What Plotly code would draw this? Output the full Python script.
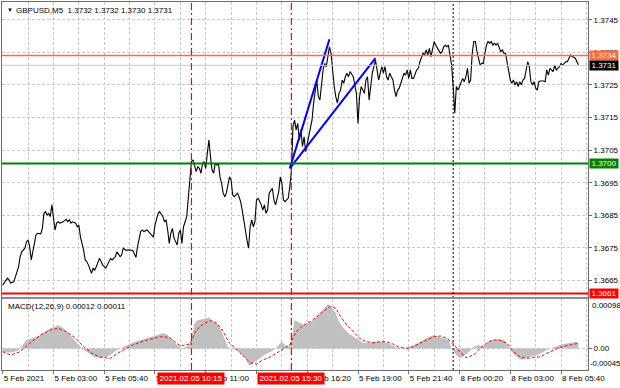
import plotly.graph_objects as go

FONT = "Liberation Sans, Arial, sans-serif"
FS = 8

symbol_title = "GBPUSD,M5  1.3732 1.3732 1.3730 1.3731"
macd_title = "MACD(12,26,9) 0.00012 0.00011"

# ---- price (close) polyline: bar index -> price ----
price_idx = [0,3,4,5,7,8,9,10,11,12,14,15,16,17,18,19,20,21,22,24,25,26,27,28,29,30,31,32,33,34,35,36,38,40,41,42,43,44,46,47,48,49,50,51,52,53,54,55,56,57,58,59,60,61,62,63,65,67,68,69,71,72,73,74,75,76,78,79,82,84,85,87,88,89,91,93,95,96,97,98,99,100,101,102,103,104,105,106,107,108,110,111,112,113,114,116,117,118,
             119,120,121,122,123,124,125,126,127,128,129,130,131,132,133,134,135,136,137,138,139,140,141,142,143,144,145,146,148,149,150,151,152,153,154,155,156,157,158,159,160,161,162,163,164,165,166,167,168,170,171,172,173,174,175,176,177,178,179,180,181,182,183,184,185,186,187,188,189,190,191,192,193,194,195,196,197,198,199,200,202,203,204,205,206,207,208,209,210,211,212,213,214,215,216,217,218,219,221,222,223,224,225,226,228,229,230,231,232,233,234,235,236,237,239,240,241,242,243,244,245,246,247,248,249,250,251,252,253,
             254,255,256,257,258,259,261,262,263,264,265,266,267,268,269,270,271,272,273,274,275,276,277,278,279,280,281,282,283,284,285,286,287,288,289,290,291,292,293,294,295,296,297,298,299,300,301,302,303,304,305,306,307,308,309,310,311,312,313,314,315,316,317,318,319,320,321,322,323,324,325,326,327,328,329,330,331,332,333,334,335,336,337,338,339,341,342,343,344,345,346,347,348,349,350,351,352,353,355,356,357,358,359,360,361,362,363]
price_val = [1.36636,1.36657,1.36652,1.36642,1.36646,1.36662,1.36677,1.36692,1.36723,1.36738,1.36749,1.36769,1.36774,1.36754,1.36713,1.36738,1.36769,1.36790,1.36795,1.36793,1.36810,1.36856,1.36861,1.36851,1.36856,1.36846,1.36882,1.36841,1.36805,1.36826,1.36830,1.36826,1.36830,1.36838,1.36830,1.36836,1.36826,1.36830,1.36826,1.36815,1.36820,1.36784,1.36764,1.36744,1.36713,1.36708,1.36698,1.36682,1.36672,1.36688,1.36682,1.36692,1.36703,1.36718,1.36708,1.36698,1.36688,1.36708,1.36718,1.36713,1.36723,1.36738,1.36728,1.36723,1.36728,1.36749,1.36742,1.36744,1.36742,1.36721,1.36754,1.36800,1.36805,1.36800,1.36805,1.36795,1.36783,1.36820,1.36836,1.36856,1.36861,1.36851,1.36846,1.36830,1.36836,1.36805,1.36764,1.36795,1.36810,1.36780,1.36759,1.36795,1.36805,1.36764,1.36815,1.36846,1.36907,1.36979,
             1.37015,1.37020,1.36999,1.36984,1.36999,1.36994,1.36979,1.37010,1.37015,1.36994,1.37040,1.37081,1.37030,1.36989,1.36979,1.37010,1.37004,1.37010,1.36968,1.36948,1.36918,1.36907,1.36918,1.36943,1.36968,1.36958,1.36912,1.36907,1.36918,1.36907,1.36892,1.36866,1.36826,1.36805,1.36774,1.36749,1.36815,1.36836,1.36815,1.36830,1.36897,1.36902,1.36892,1.36882,1.36866,1.36882,1.36856,1.36866,1.36918,1.36933,1.36897,1.36882,1.36902,1.36922,1.36968,1.36948,1.36897,1.36892,1.36897,1.36902,1.36938,1.36984,1.37122,1.37142,1.37112,1.37132,1.37081,1.37112,1.37061,1.37091,1.37045,1.37071,1.37091,1.37122,1.37142,1.37194,1.37234,1.37265,1.37214,1.37204,1.37296,1.37316,1.37306,1.37337,1.37367,1.37347,1.37286,1.37245,1.37214,1.37194,1.37224,1.37234,1.37265,1.37255,1.37275,1.37286,1.37275,1.37291,1.37275,1.37245,1.37224,1.37132,1.37214,1.37245,1.37224,1.37265,1.37275,1.37204,1.37245,1.37286,1.37306,1.37326,1.37296,1.37265,1.37306,1.37286,1.37306,1.37275,1.37265,1.37286,1.37275,1.37265,1.37234,1.37214,1.37234,1.37240,1.37255,1.37270,1.37286,
             1.37280,1.37296,1.37270,1.37296,1.37270,1.37270,1.37296,1.37301,1.37321,1.37332,1.37347,1.37342,1.37357,1.37342,1.37362,1.37337,1.37367,1.37383,1.37372,1.37362,1.37357,1.37347,1.37352,1.37367,1.37372,1.37367,1.37372,1.37337,1.37311,1.37245,1.37163,1.37245,1.37234,1.37245,1.37255,1.37270,1.37260,1.37275,1.37301,1.37255,1.37265,1.37347,1.37383,1.37383,1.37352,1.37326,1.37311,1.37316,1.37316,1.37347,1.37372,1.37383,1.37378,1.37383,1.37372,1.37378,1.37372,1.37378,1.37367,1.37352,1.37357,1.37347,1.37347,1.37321,1.37296,1.37265,1.37255,1.37265,1.37250,1.37260,1.37245,1.37260,1.37250,1.37265,1.37270,1.37296,1.37321,1.37306,1.37260,1.37250,1.37260,1.37240,1.37234,1.37260,1.37262,1.37262,1.37260,1.37296,1.37280,1.37301,1.37296,1.37291,1.37311,1.37296,1.37301,1.37306,1.37316,1.37311,1.37321,1.37321,1.37332,1.37342,1.37337,1.37335,1.37332,1.37321,1.37311]

# ---- MACD main (histogram) ----
macd_idx = [0,5,9,11,15,19,24,27,30,33,35,38,41,44,47,50,54,58,61,65,68,71,74,77,80,83,87,90,93,96,99,101,104,107,110,113,116,118,121,123,126,130,133,136,138,140,142,143,147,150,153,155,157,159,162,165,169,172,174,176,178,180,182,184,186,190,193,196,199,202,205,207,210,212,215,218,221,224,227,231,234,237,240,243,246,249,253,256,259,262,265,268,272,275,278,281,283,285,288,290,294,297,300,303,306,309,313,316,319,321,324,327,330,334,337,340,343,346,349,351,354,358,361,363]
macd_val = [-0.000074,-0.000084,-0.000053,0.0,0.000179,0.000215,0.000285,0.000354,0.000426,0.000460,0.000496,0.000433,0.000348,0.000222,0.000116,0.0,-0.000095,-0.000179,-0.000200,-0.000179,-0.000137,-0.000053,0.0,0.000053,0.000095,0.000137,0.000179,0.000222,0.000243,0.000264,0.000306,0.000327,0.000285,0.000179,0.000074,0.0,0.000053,0.000074,0.000532,0.000601,0.000616,0.000658,0.000565,0.000496,0.000354,0.000179,0.000038,0.0,-0.000032,-0.000101,-0.000207,-0.000348,-0.000348,-0.000279,-0.000207,-0.000137,-0.000068,0.0,0.000074,0.000143,0.000074,0.000025,0.000179,0.000601,0.000565,0.000496,0.000532,0.000601,0.000707,0.000812,0.000939,0.000882,0.000743,0.000565,0.000426,0.000321,0.000249,0.000179,0.000122,0.000110,0.000143,0.000143,0.000143,0.000110,0.000053,0.000004,-0.000011,0.000025,0.000074,0.000122,0.000179,0.000236,0.000285,0.000249,0.000215,0.000179,0.000004,-0.000101,-0.000207,-0.000173,-0.000068,0.000038,0.000074,0.000038,0.000143,0.000179,0.000194,0.000179,0.000038,-0.000068,-0.000173,-0.000243,-0.000207,-0.000173,-0.000137,-0.000089,-0.000032,0.000004,0.000042,0.000074,0.000095,0.000122,0.000137,0.000120]

# ---- MACD signal ----
signal_idx = [0,5,11,17,24,30,35,40,46,51,56,61,68,74,82,91,99,105,112,118,122,127,131,135,139,143,148,152,156,160,164,169,173,177,181,185,190,194,198,202,206,210,213,217,221,225,229,234,238,242,246,250,255,259,263,267,272,276,280,284,288,292,297,301,305,309,313,318,322,326,330,334,339,343,347,351,356,360,363]
signal_val = [-0.000068,-0.000137,-0.000068,0.000110,0.000285,0.000390,0.000426,0.000354,0.000215,0.000038,-0.000095,-0.000179,-0.000207,-0.000068,0.000074,0.000179,0.000249,0.000236,0.000053,0.000095,0.000390,0.000532,0.000587,0.000532,0.000354,0.000110,-0.000032,-0.000173,-0.000300,-0.000327,-0.000243,-0.000173,-0.000089,0.000004,0.000074,0.000354,0.000496,0.000565,0.000671,0.000776,0.000882,0.000848,0.000671,0.000496,0.000354,0.000215,0.000143,0.000122,0.000143,0.000143,0.000095,0.000025,0.000004,0.000038,0.000110,0.000179,0.000249,0.000264,0.000215,0.000110,-0.000068,-0.000194,-0.000137,0.000004,0.000110,0.000179,0.000179,0.000110,-0.000068,-0.000173,-0.000207,-0.000194,-0.000173,-0.000101,-0.000032,0.000021,0.000063,0.000095,0.000110]

# ---- axes ----
xtick_idx = [0, 32, 64, 96, 128, 160, 192, 224, 256, 288, 320, 352]
xtick_text = ["5 Feb 2021", "5 Feb 03:00", "5 Feb 05:40", "5 Feb 08:20", "5 Feb 11:00", "5 Feb 13:40",
              "5 Feb 16:20", "5 Feb 19:00", "5 Feb 21:40", "8 Feb 00:20", "8 Feb 03:00", "8 Feb 05:40"]
xgrid_minor_idx = [16, 48, 80, 112, 144, 176, 208, 240, 272, 304, 336, 368]
price_ticks = [1.3665, 1.3675, 1.3685, 1.3695, 1.3705, 1.3715, 1.3725, 1.3735, 1.3745]
macd_max_label = "0.00098"
macd_min_label = "-0.00045"

# ---- horizontal levels ----
level_vals = [1.3734, 1.3731, 1.37009, 1.3661]
level_text = ["1.3734", "1.3731", "1.3700", "1.3661"]
level_line_colors = ["#ff6a3c", "#c8c8c8", "#008000", "#ff0000"]
level_box_colors = ["#ff6a3c", "#000000", "#008000", "#ff0000"]
level_widths = [1.5, 1, 2, 2]

# ---- vertical event markers ----
event_idx = [119, 182]
event_text = ["2021.02.05 10:15", "2021.02.05 15:30"]
day_sep_idx = 284

# ---- trend lines ----
trend_start_idx, trend_start_val = 181, 1.36994
trend_end_idx = [206, 235]
trend_end_val = [1.37390, 1.37332]

GRID = "#c8c8c8"
BORDER = "#6e6e6e"

fig = go.Figure()
fig.add_trace(go.Scatter(x=price_idx, y=price_val, mode="lines", line=dict(color="black", width=1.1),
                         xaxis="x", yaxis="y", hoverinfo="skip"))
for xe, ye in zip(trend_end_idx, trend_end_val):
    fig.add_trace(go.Scatter(x=[trend_start_idx, xe], y=[trend_start_val, ye], mode="lines",
                             line=dict(color="#0000ff", width=2), xaxis="x", yaxis="y", hoverinfo="skip"))
fig.add_trace(go.Scatter(x=macd_idx, y=macd_val, mode="lines", line=dict(color="#c0c0c0", width=0),
                         fill="tozeroy", fillcolor="#c0c0c0", xaxis="x2", yaxis="y2", hoverinfo="skip"))
fig.add_trace(go.Scatter(x=signal_idx, y=signal_val, mode="lines",
                         line=dict(color="#ff0000", width=1, dash="3px,2px"),
                         xaxis="x2", yaxis="y2", hoverinfo="skip"))

shapes = []
for v, c, w in zip(level_vals, level_line_colors, level_widths):
    shapes.append(dict(type="line", xref="paper", x0=0, x1=1, yref="y", y0=v, y1=v,
                       line=dict(color=c, width=w)))
for e in event_idx:
    shapes.append(dict(type="line", xref="x", x0=e, x1=e, yref="paper", y0=0, y1=1,
                       line=dict(color="#ff0000", width=1.2, dash="7px,3px,2px,3px")))
shapes.append(dict(type="line", xref="x", x0=day_sep_idx, x1=day_sep_idx, yref="paper", y0=0, y1=1,
                   line=dict(color="black", width=1, dash="2px,2px")))
# separator between panels
shapes.append(dict(type="rect", xref="paper", x0=0, x1=1, yref="paper", y0=0.19293, y1=0.19837,
                   fillcolor="#8c8c8c", line=dict(width=0)))

annotations = []
annotations.append(dict(xref="paper", yref="paper", x=0, y=1, xanchor="left", yanchor="top",
                        xshift=3, yshift=-3, text="▼", showarrow=False,
                        font=dict(family=FONT, size=6, color="black")))
annotations.append(dict(xref="paper", yref="paper", x=0, y=1, xanchor="left", yanchor="top",
                        xshift=12, yshift=-2, text=symbol_title, showarrow=False,
                        font=dict(family=FONT, size=FS, color="black")))
annotations.append(dict(xref="paper", yref="y2 domain", x=0, y=1, xanchor="left", yanchor="top",
                        xshift=4, yshift=-1, text=macd_title, showarrow=False,
                        font=dict(family=FONT, size=FS, color="black")))
annotations.append(dict(xref="paper", yref="y2 domain", x=1, y=1, xanchor="left", yanchor="top",
                        xshift=2, yshift=0, text=macd_max_label, showarrow=False,
                        font=dict(family=FONT, size=FS, color="black")))
annotations.append(dict(xref="paper", yref="y2 domain", x=1, y=0, xanchor="left", yanchor="bottom",
                        xshift=0, yshift=0, text=macd_min_label, showarrow=False,
                        font=dict(family=FONT, size=FS - 0.3, color="black")))
for v, t, c in zip(level_vals, level_text, level_box_colors):
    annotations.append(dict(xref="paper", x=1, xanchor="left", xshift=1, yref="y", y=v,
                            text=t, showarrow=False, bgcolor=c, borderpad=0, width=28, height=9,
                            align="center", font=dict(family=FONT, size=FS, color="white")))
for e, t in zip(event_idx, event_text):
    annotations.append(dict(xref="x2", x=e, yref="paper", y=0, yanchor="top", yshift=-2,
                            text=t, showarrow=False, bgcolor="#ff0000", borderpad=0, width=66, height=11,
                            align="center", font=dict(family=FONT, size=FS, color="white")))

xgrid = dict(showgrid=True, gridcolor=GRID, griddash="3px,2px", gridwidth=1)

fig.update_layout(
    width=620, height=388,
    margin=dict(l=2, r=32, t=2, b=18, autoexpand=False),
    paper_bgcolor="white", plot_bgcolor="white",
    showlegend=False,
    font=dict(family=FONT, size=FS, color="black"),
    shapes=shapes, annotations=annotations,
    xaxis=dict(domain=[0, 1], anchor="y", range=[-0.44, 369.0], tickvals=xtick_idx,
               showticklabels=False, ticks="", zeroline=False, automargin=False,
               showline=True, mirror=True, linecolor=BORDER, linewidth=1,
               minor=dict(tickvals=xgrid_minor_idx, showgrid=True, gridcolor=GRID, griddash="3px,2px", ticks=""),
               **xgrid),
    yaxis=dict(domain=[0.19837, 1], anchor="x", range=[1.365994, 1.375043], side="right",
               tickvals=price_ticks, ticktext=[f"{v:.4f}" for v in price_ticks], automargin=False,
               ticks="outside", ticklen=3, tickcolor=BORDER, zeroline=False,
               showline=True, mirror=True, linecolor=BORDER, linewidth=1,
               tickfont=dict(family=FONT, size=FS, color="black"),
               showgrid=True, gridcolor=GRID, griddash="3px,2px"),
    xaxis2=dict(domain=[0, 1], anchor="y2", range=[-0.44, 369.0], matches="x",
                tickvals=xtick_idx, ticktext=xtick_text, ticklabelposition="outside right",
                tickangle=0, automargin=False,
                ticks="outside", ticklen=3, tickcolor=BORDER, zeroline=False,
                showline=True, mirror=True, linecolor=BORDER, linewidth=1,
                tickfont=dict(family=FONT, size=FS, color="black"),
                minor=dict(tickvals=xgrid_minor_idx, showgrid=True, gridcolor=GRID, griddash="3px,2px", ticks=""),
                **xgrid),
    yaxis2=dict(domain=[0, 0.19293], anchor="x2", range=[-0.000454, 0.001044], side="right",
                tickvals=[0.0], ticktext=["0.00"], ticks="outside", ticklen=3, tickcolor=BORDER,
                zeroline=False, showline=True, mirror=True, linecolor=BORDER, linewidth=1, automargin=False,
                tickfont=dict(family=FONT, size=FS, color="black"),
                showgrid=True, gridcolor=GRID, griddash="3px,2px"),
)

fig.write_html("out.html", config={"displayModeBar": False},
               post_script="document.body.style.margin='0';document.body.style.overflow='hidden';")
